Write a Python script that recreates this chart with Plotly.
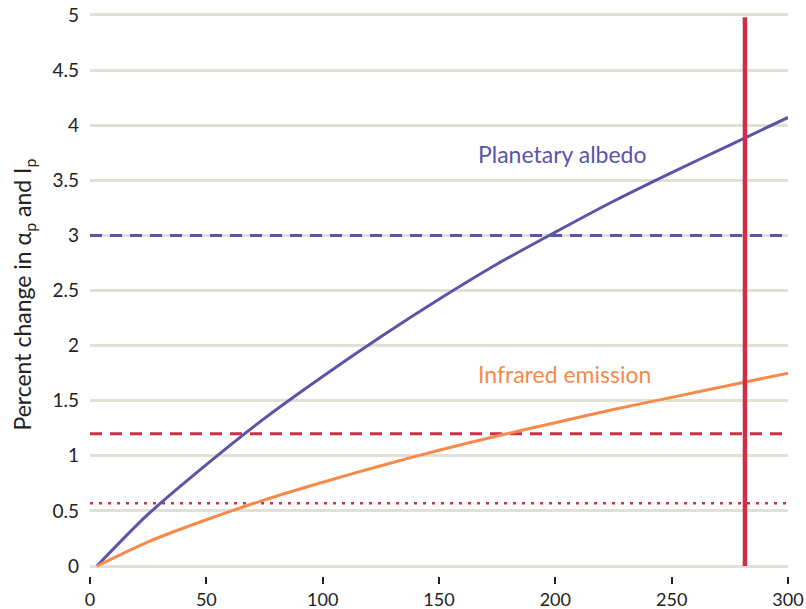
import plotly.graph_objects as go

# Data
x_vals = [3, 25, 50, 75, 100, 125, 150, 175, 200, 225, 250, 275, 300]
albedo = [0.0, 0.47, 0.92, 1.34, 1.72, 2.08, 2.42, 2.74, 3.03, 3.31, 3.57, 3.82, 4.07]
infrared = [0.0, 0.22, 0.42, 0.60, 0.76, 0.91, 1.05, 1.18, 1.30, 1.42, 1.53, 1.64, 1.75]

albedo_threshold = 3.0
infrared_threshold = 1.2
dotted_threshold = 0.57
vertical_x = 281.5

x_ticks = [0, 50, 100, 150, 200, 250, 300]
y_ticks = [0, 0.5, 1, 1.5, 2, 2.5, 3, 3.5, 4, 4.5, 5]
y_tick_labels = ["0", "0.5", "1", "1.5", "2", "2.5", "3", "3.5", "4", "4.5", "5"]

PURPLE = "#5b55a8"
ORANGE = "#f58a4b"
RED = "#cf3048"
FONT = "Lato"

fig = go.Figure()

fig.add_trace(go.Scatter(x=[0, 300], y=[albedo_threshold] * 2, mode="lines",
                         line=dict(color=PURPLE, width=3, dash="12px,8px"), hoverinfo="skip"))
fig.add_trace(go.Scatter(x=[0, 300], y=[infrared_threshold] * 2, mode="lines",
                         line=dict(color=RED, width=3, dash="12px,8px"), hoverinfo="skip"))
fig.add_trace(go.Scatter(x=[0, 300], y=[dotted_threshold] * 2, mode="lines",
                         line=dict(color=RED, width=2.5, dash="3px,6px"), hoverinfo="skip"))
fig.add_trace(go.Scatter(x=x_vals, y=albedo, mode="lines",
                         line=dict(color=PURPLE, width=3, shape="spline", smoothing=0.8)))
fig.add_trace(go.Scatter(x=x_vals, y=infrared, mode="lines",
                         line=dict(color=ORANGE, width=3, shape="spline", smoothing=0.8)))
fig.add_trace(go.Scatter(x=[vertical_x, vertical_x], y=[0, 4.98], mode="lines",
                         line=dict(color=RED, width=4.5), hoverinfo="skip"))

fig.add_annotation(x=166, y=3.74, text="Planetary albedo", showarrow=False, xanchor="left",
                   font=dict(family=FONT, size=23, color=PURPLE))
fig.add_annotation(x=166, y=1.74, text="Infrared emission", showarrow=False, xanchor="left",
                   font=dict(family=FONT, size=23, color=ORANGE))

fig.update_layout(
    width=806, height=609,
    margin=dict(l=90, r=18, t=13, b=33, autoexpand=False),
    paper_bgcolor="white", plot_bgcolor="white",
    showlegend=False,
    font=dict(family=FONT, size=18, color="#222222"),
    xaxis=dict(range=[0, 300], tickvals=x_ticks, showgrid=False, zeroline=False, showline=False,
               automargin=False,
               ticks="outside", ticklen=7, tickwidth=2, tickcolor="#222222",
               tickfont=dict(family=FONT, size=18, color="#222222")),
    yaxis=dict(range=[-0.0907, 5.018], tickvals=y_ticks, ticktext=y_tick_labels,
               showgrid=True, gridcolor="#e2e0d6", gridwidth=2.5, zeroline=False, showline=False,
               automargin=False,
               ticks="", ticklabelstandoff=10,
               tickfont=dict(family=FONT, size=19, color="#222222"),
               title=dict(text="Percent change in α<sub>p</sub> and I<sub>p</sub>",
                          font=dict(family=FONT, size=23, color="#222222"), standoff=14)),
)

fig.write_html("out.html", config={"displayModeBar": False},
               post_script="document.body.style.margin='0';")
